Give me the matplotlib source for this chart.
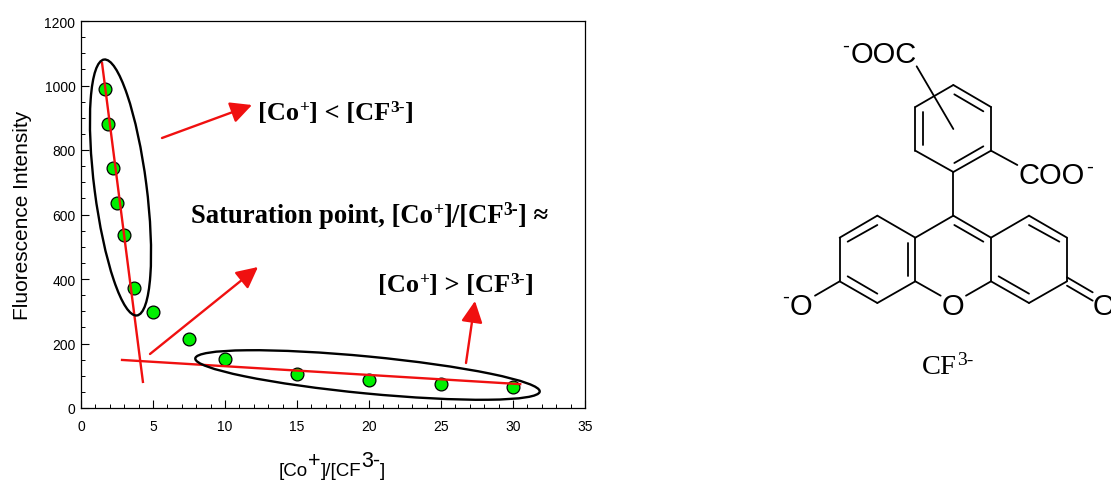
import matplotlib
matplotlib.use("Agg")
import matplotlib.pyplot as plt
from matplotlib.patches import Ellipse, FancyArrowPatch
from matplotlib.ticker import MultipleLocator

W, H = 1111, 481
ratio = [1.7, 1.9, 2.2, 2.5, 3.0, 3.7, 5.0, 7.5, 10, 15, 20, 25, 30]
intensity = [990, 882, 744, 636, 537, 372, 298, 213, 152, 106, 88, 75, 65]
fit1_x, fit1_y = [1.46, 4.3], [1070, 81]
fit2_x, fit2_y = [2.85, 30.5], [149, 74]
xticks = [0, 5, 10, 15, 20, 25, 30, 35]
yticks = [0, 200, 400, 600, 800, 1000, 1200]

SANS = "Liberation Sans"
SERIF = "Liberation Serif"
plt.rcParams["font.family"] = SANS

fig = plt.figure(figsize=(W / 100, H / 100), dpi=100)
ax = fig.add_axes([81 / W, 1 - 409 / H, 504 / W, 387 / H])
ax.set_xlim(0, 35)
ax.set_ylim(0, 1200)
ax.set_xticks(xticks)
ax.set_yticks(yticks)
ax.xaxis.set_minor_locator(MultipleLocator(1))
ax.yaxis.set_minor_locator(MultipleLocator(50))
ax.tick_params(which="major", direction="in", length=6, width=0.8, labelsize=10, pad=4, top=False, right=False)
ax.tick_params(axis="x", which="major", pad=8)
ax.tick_params(which="minor", direction="in", length=3, width=0.7, top=False, right=False)
for s in ax.spines.values():
    s.set_linewidth(0.9)
ax.plot(fit1_x, fit1_y, color="#f01010", lw=1.7, zorder=3)
ax.plot(fit2_x, fit2_y, color="#f01010", lw=1.7, zorder=3)
ax.scatter(ratio, intensity, s=85, facecolor="#00f000", edgecolor="black", linewidth=0.9, zorder=2)

# pixel-space overlay for annotations and the structure
ov = fig.add_axes([0, 0, 1, 1])
ov.set_xlim(0, W)
ov.set_ylim(H, 0)
ov.axis("off")
ov.patch.set_alpha(0)

ov.add_patch(Ellipse((120.5, 188.5), 52, 258, angle=-7.3, fill=False, ec="black", lw=1.7))
ov.add_patch(Ellipse((367.5, 376), 346, 37, angle=5.5, fill=False, ec="black", lw=1.7))

arrows = [((162, 139), (252, 106)), ((150, 355), (258, 268)), ((466, 364), (475, 302))]
for a, b in arrows:
    ov.add_patch(FancyArrowPatch(a, b, arrowstyle="-|>,head_length=5,head_width=2.5", mutation_scale=2.6,
                                 color="#f01010", lw=1.7, shrinkA=0, shrinkB=0))


def sup(x, y, parts, size, weight="normal", fam=SERIF, sup_size=None, rise=8):
    """Lay out text runs left to right; a run flagged True is a superscript."""
    r = fig.canvas.get_renderer()
    sup_size = sup_size or size * 0.66
    for s, is_sup in parts:
        t = ov.text(x, y - (rise if is_sup else 0), s, fontsize=sup_size if is_sup else size,
                    fontweight=weight, family=fam, va="baseline", ha="left")
        x += t.get_window_extent(r).width
    return x


sup(258, 120, [("[Co", 0), ("+", 1), ("] < [CF", 0), ("3-", 1), ("]", 0)], 19, "bold")
sup(191, 223, [("Saturation point, [Co", 0), ("+", 1), ("]/[CF", 0), ("3-", 1), ("] ≈", 0)], 19.2, "bold")
sup(378, 292, [("[Co", 0), ("+", 1), ("] > [CF", 0), ("3-", 1), ("]", 0)], 19, "bold")

ov.text(23, 215, "Fluorescence Intensity", rotation=90, fontsize=15, ha="center", va="center")
sup(279, 476, [("[Co", 0), ("+", 1), ("]/[CF", 0), ("3-", 1), ("]", 0)], 13.5, fam=SANS, sup_size=15.5, rise=9)


# structure: coordinates in zoom units (3x, offset 770,20)
def Z(p):
    return 770 + p[0] / 3, 20 + p[1] / 3


bonds = [
    # upper ring
    ((550, 198), (663, 264)), ((663, 264), (663, 395)), ((663, 395), (550, 459)),
    ((550, 459), (436, 395)), ((436, 395), (436, 264)), ((436, 264), (550, 198)),
    ((553, 226), (640, 277)), ((640, 382), (553, 432)), ((459, 379), (459, 279)),
    # substituents
    ((440, 142), (550, 330)), ((663, 395), (742, 438)), ((550, 459), (550, 590)),
    # central ring
    ((550, 590), (663, 656)), ((663, 656), (663, 787)), ((663, 787), (588, 830)),
    ((512, 830), (436, 787)), ((436, 787), (436, 656)), ((436, 656), (550, 590)),
    ((553, 618), (640, 668)), ((413, 770), (413, 672)),
    # left ring
    ((436, 656), (322, 590)), ((322, 590), (209, 656)), ((209, 656), (209, 787)),
    ((209, 787), (322, 852)), ((322, 852), (436, 787)),
    ((322, 618), (233, 668)), ((233, 772), (322, 824)),
    # right ring
    ((663, 656), (777, 590)), ((777, 590), (891, 656)), ((891, 656), (891, 787)),
    ((891, 787), (777, 852)), ((777, 852), (663, 787)),
    ((777, 618), (868, 668)), ((777, 824), (686, 772)),
    # exocyclic
    ((209, 787), (135, 830)), ((891, 775), (968, 820)), ((891, 800), (968, 845)),
]
for a, b in bonds:
    (x0, y0), (x1, y1) = Z(a), Z(b)
    ov.plot([x0, x1], [y0, y1], color="black", lw=1.3, solid_capstyle="round")


def chem(x, y, s, size=21):
    ov.text(x, y, s, fontsize=size, family=SANS, va="baseline", ha="left", clip_on=False)


chem(851, 63, "OOC")
chem(842, 52, "-", 15)
chem(1018, 184, "COO")
chem(1086, 173, "-", 15)
chem(790, 315, "O")
chem(782, 303, "-", 15)
chem(942, 315, "O")
chem(1093, 315, "O")
sup(922, 374, [("CF", 0), ("3-", 1)], 20.5, rise=9, sup_size=14)

fig.savefig("out.png", dpi=100)
